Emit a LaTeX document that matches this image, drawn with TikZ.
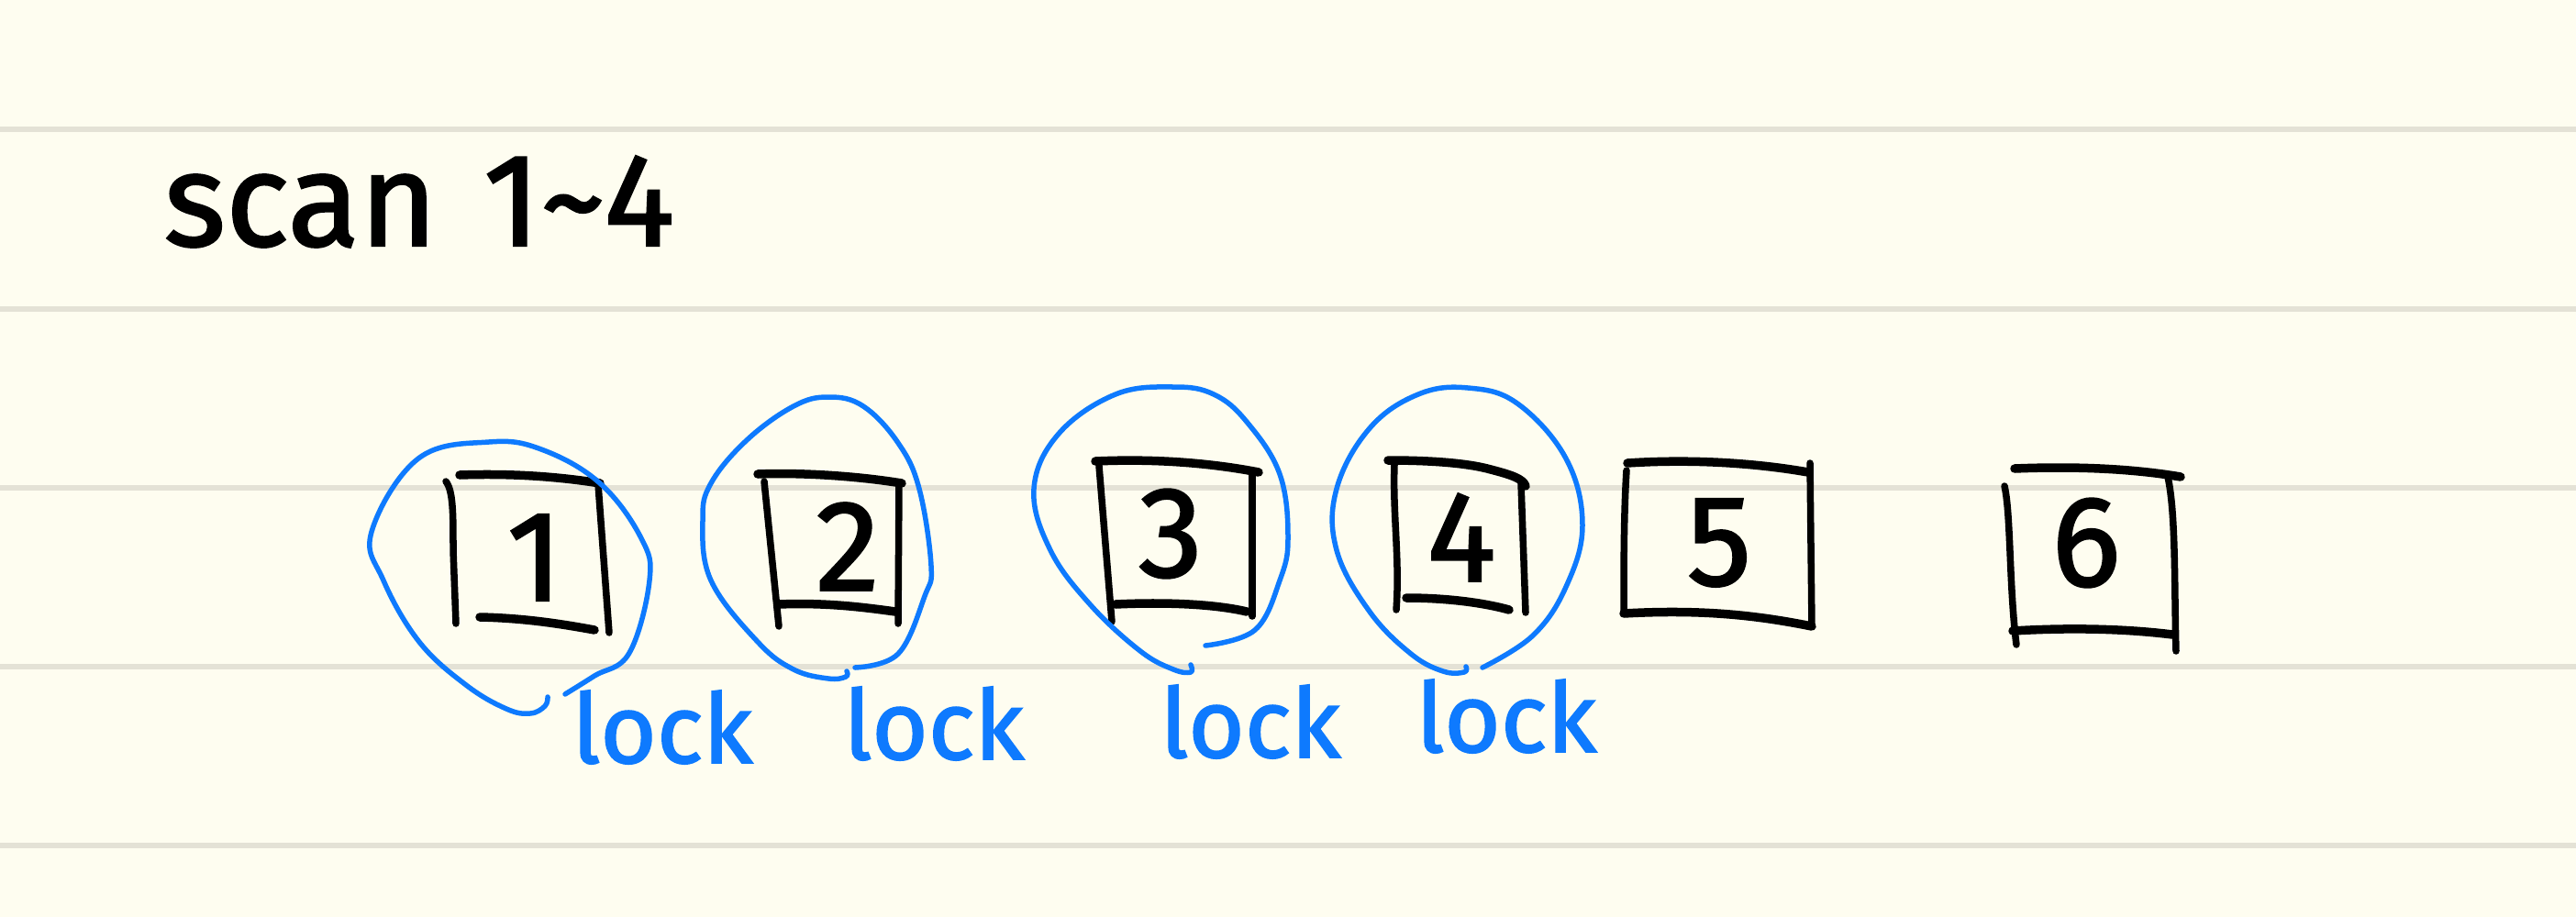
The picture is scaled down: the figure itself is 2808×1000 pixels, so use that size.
\documentclass[tikz,border=0pt]{standalone}
\usepackage{fontspec}
\setmainfont{Fira Sans}
\newfontfamily\handfont[FakeBold=1.6]{Fira Sans}
\definecolor{paper}{RGB}{254,253,240}
\definecolor{ruled}{RGB}{228,226,214}
\definecolor{pen}{RGB}{14,122,254}
\begin{document}
\begin{tikzpicture}[x=0.01cm,y=-0.01cm,
  ruleline/.style={ruled, line width=0.06cm},
  ink/.style={black, line width=0.095cm, line cap=round, line join=round},
  inkv/.style={black, line width=0.075cm, line cap=round, line join=round},
  loopline/.style={pen, line width=0.055cm, line cap=round, line join=round},
  digit/.style={font=\handfont\fontsize{40}{48}\selectfont, inner sep=0pt},
  locktext/.style={text=pen, font=\handfont\fontsize{30}{36}\selectfont, inner sep=0pt}]
\fill[paper] (0,0) rectangle (2808,1000);
\useasboundingbox (0,0) rectangle (2808,1000);
\foreach \yy in {141,337,532,727,922} \draw[ruleline] (0,\yy) -- (2808,\yy);

% title
\node[anchor=base west, inner sep=0pt, font=\handfont\fontsize{41}{50}\selectfont] (title) at (178,268) {scan\hspace{0.35em}1\textasciitilde 4};

% digits
\node[digit] (d1) at (583,608) {1};
\node[digit] (d2) at (924,596) {2};
\node[digit] (d3) at (1276,582) {3};
\node[digit] (d4) at (1593,586) {4};
\node[digit] (d5) at (1874,592) {5};
\node[digit] (d6) at (2274,592) {6};

% box 1
\draw[ink] (501,518) .. controls (560,516) and (610,520) .. (654,527);
\draw[inkv] (486,525) .. controls (494,535) and (494,560) .. (494,600) -- (497,680);
\draw[inkv] (652,528) -- (664,690);
\draw[ink] (523,673) .. controls (570,674) and (610,680) .. (648,687);
% box 2
\draw[ink] (826,517) .. controls (880,515) and (940,520) .. (983,527);
\draw[inkv] (833,525) -- (849,683);
\draw[inkv] (980,528) -- (979,680);
\draw[ink] (849,659) .. controls (900,657) and (940,662) .. (976,667);
% box 3
\draw[ink] (1194,503) .. controls (1260,500) and (1320,505) .. (1372,515);
\draw[inkv] (1198,508) -- (1212,678);
\draw[inkv] (1365,517) -- (1365,672);
\draw[ink] (1216,659) .. controls (1280,656) and (1330,660) .. (1359,667);
% box 4
\draw[ink] (1513,502) .. controls (1560,502) and (1600,505) .. (1625,512) .. controls (1648,518) and (1660,522) .. (1663,530);
\draw[inkv] (1520,507) .. controls (1518,560) and (1526,610) .. (1522,665);
\draw[inkv] (1658,527) -- (1663,668);
\draw[ink] (1533,652) .. controls (1580,652) and (1620,658) .. (1645,665);
% box 5
\draw[ink] (1774,505) .. controls (1850,500) and (1920,506) .. (1971,515);
\draw[inkv] (1773,513) .. controls (1770,560) and (1770,620) .. (1770,668);
\draw[inkv] (1973,505) -- (1975,683);
\draw[ink] (1770,669) .. controls (1860,664) and (1920,672) .. (1975,683);
% box 6
\draw[ink] (2196,511) .. controls (2270,508) and (2330,512) .. (2377,520);
\draw[inkv] (2185,530) .. controls (2192,560) and (2190,640) .. (2198,703);
\draw[inkv] (2363,520) .. controls (2372,560) and (2370,640) .. (2372,710);
\draw[ink] (2194,688) .. controls (2260,684) and (2320,686) .. (2368,692);

% blue loops
\draw[loopline] plot[smooth, tension=0.65] coordinates {(616,757) (648,737) (686,712) (708,633) (699,587) (654,527) (590,490) (533,482) (456,500) (405,580) (418,633) (457,700) (508,747) (552,773) (578,778) (594,770) (597,760)};
\draw[loopline] plot[smooth, tension=0.65] coordinates {(932,728) (979,713) (1008,650) (1015,617) (1002,533) (979,483) (941,443) (903,433) (865,443) (814,480) (775,527) (766,567) (775,633) (826,700) (865,730) (903,740) (922,738) (923,732)};
\draw[loopline] plot[smooth, tension=0.65] coordinates {(1314,704) (1368,687) (1395,633) (1404,587) (1395,517) (1359,460) (1323,430) (1279,422) (1216,430) (1154,473) (1127,533) (1145,600) (1189,660) (1243,710) (1279,730) (1298,733) (1298,725)};
\draw[loopline] plot[smooth, tension=0.65] coordinates {(1616,728) (1671,693) (1707,640) (1725,573) (1707,500) (1654,440) (1600,423) (1546,430) (1493,467) (1457,533) (1457,600) (1493,667) (1538,713) (1573,732) (1596,733) (1598,727)};

% lock labels
\node[locktext] (l1) at (722,793) {lock};
\node[locktext] (l2) at (1018,789) {lock};
\node[locktext] (l3) at (1363,787) {lock};
\node[locktext] (l4) at (1642,781) {lock};
\end{tikzpicture}
\end{document}
